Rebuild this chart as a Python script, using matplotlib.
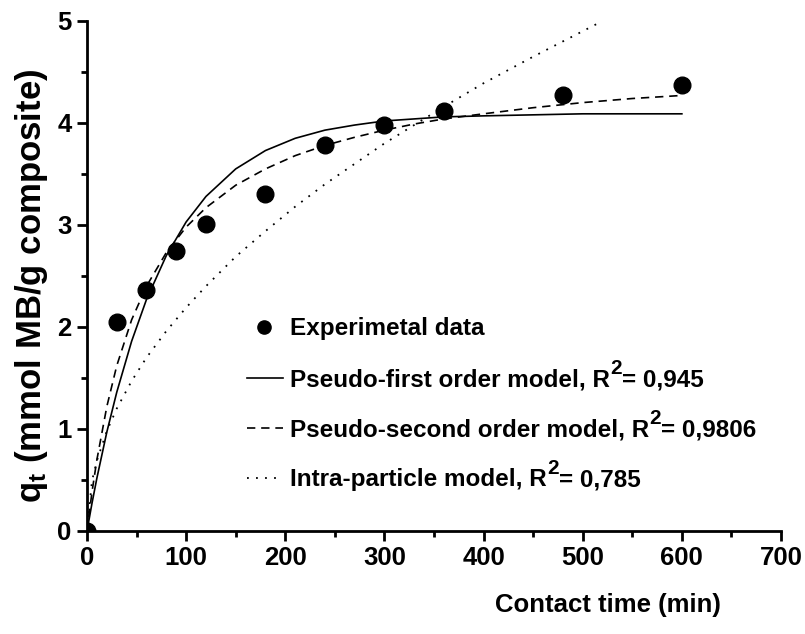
import matplotlib
matplotlib.use('Agg')
import matplotlib.pyplot as plt
from matplotlib.lines import Line2D
from matplotlib.ticker import MultipleLocator

plt.rcParams['font.family'] = ['Liberation Sans', 'DejaVu Sans']
plt.rcParams['font.weight'] = 'bold'
plt.rcParams['mathtext.fontset'] = 'custom'
plt.rcParams['mathtext.rm'] = 'Liberation Sans:bold'
plt.rcParams['mathtext.bf'] = 'Liberation Sans:bold'
plt.rcParams['mathtext.it'] = 'Liberation Sans:bold'

# Experimental data
time_exp = [0, 30, 60, 90, 120, 180, 240, 300, 360, 480, 600]
q_exp = [0, 2.05, 2.36, 2.75, 3.01, 3.30, 3.78, 3.98, 4.12, 4.27, 4.37]

# Model curves
time_pfo = [0, 5, 10, 20, 30, 45, 60, 80, 100, 120, 150, 180, 210, 240, 270, 300, 330, 360, 400, 450, 500, 550, 600]
q_pfo = [0, 0.27, 0.52, 0.97, 1.36, 1.86, 2.27, 2.70, 3.03, 3.28, 3.55, 3.73, 3.85, 3.93, 3.98, 4.02, 4.04, 4.06, 4.07, 4.08, 4.09, 4.09, 4.09]

time_pso = [0, 5, 10, 20, 30, 45, 60, 80, 100, 120, 150, 180, 210, 240, 270, 300, 330, 360, 400, 450, 500, 550, 600]
q_pso = [0, 0.38, 0.70, 1.22, 1.62, 2.07, 2.40, 2.73, 2.98, 3.17, 3.39, 3.55, 3.68, 3.78, 3.86, 3.93, 3.99, 4.04, 4.09, 4.15, 4.20, 4.24, 4.27]

time_ipd = [0, 5, 10, 20, 30, 45, 60, 80, 100, 120, 150, 180, 210, 240, 270, 300, 330, 360, 400, 450, 500, 520]
q_ipd = [0, 0.49, 0.69, 0.98, 1.20, 1.47, 1.70, 1.96, 2.19, 2.40, 2.69, 2.94, 3.18, 3.40, 3.60, 3.80, 3.98, 4.16, 4.39, 4.65, 4.90, 5.00]

legend_names = ['Experimetal data',
                'Pseudo-first order model, R',
                'Pseudo-second order model, R',
                'Intra-particle model, R']
legend_r2 = [None, '0,945', '0,9806', '0,785']

W, H = 805, 634
fig = plt.figure(figsize=(W / 100, H / 100), dpi=100)
ax = fig.add_axes([87 / W, 1 - 531 / H, (781 - 87) / W, (531 - 21) / H])

solid_style = dict(color='k', lw=1.2, ls='-')
dash_style = dict(color='k', lw=1.2, ls=(0, (5, 3.5)))
dot_style = dict(color='k', lw=1.3, ls=(0, (1, 4)))

ax.plot(time_pfo, q_pfo, **solid_style)
ax.plot(time_pso, q_pso, **dash_style)
ax.plot(time_ipd, q_ipd, **dot_style)
ax.plot(time_exp, q_exp, 'o', color='k', ms=12, ls='none', zorder=5)

ax.set_xlim(0, 700)
ax.set_ylim(0, 5)
for s in ['top', 'right']:
    ax.spines[s].set_visible(False)
for s in ['left', 'bottom']:
    ax.spines[s].set_linewidth(2)

ax.xaxis.set_major_locator(MultipleLocator(100))
ax.xaxis.set_minor_locator(MultipleLocator(50))
ax.yaxis.set_major_locator(MultipleLocator(1))
ax.yaxis.set_minor_locator(MultipleLocator(0.5))
ax.tick_params(which='major', direction='out', length=7, width=2, labelsize=18.5, pad=4)
ax.tick_params(which='minor', direction='out', length=4, width=2)
for lab in ax.get_xticklabels() + ax.get_yticklabels():
    lab.set_fontweight('bold')

ax.set_ylabel(r'q$_{\mathbf{t}}$ (mmol MB/g composite)', fontsize=25, fontweight='bold')
ax.yaxis.set_label_coords(-0.053, 0.48)
fig.text(608 / W, 1 - 605 / H, 'Contact time (min)', fontsize=18.5, fontweight='bold',
         ha='center', va='center')

# manual legend
renderer = fig.canvas.get_renderer()
rows = [327, 378, 428, 478]
styles = [None, solid_style, dash_style, dot_style]
fs = 17.5
for y, name, r2, st in zip(rows, legend_names, legend_r2, styles):
    yf = 1 - y / H
    if st is None:
        fig.add_artist(Line2D([264 / W], [yf], marker='o', color='k', ms=9.5, ls='none',
                              transform=fig.transFigure))
    else:
        fig.add_artist(Line2D([247 / W, 283 / W], [yf, yf], transform=fig.transFigure, **st))
    base = y + 8
    t1 = fig.text(290 / W, 1 - base / H, name, fontsize=fs, fontweight='bold',
                  ha='left', va='baseline')
    if r2 is not None:
        x1 = t1.get_window_extent(renderer).x1
        t2 = fig.text(x1 / W + 0.5 / W, 1 - (base - 12) / H, '2', fontsize=15, fontweight='bold',
                      ha='left', va='baseline')
        x2 = t2.get_window_extent(renderer).x1
        fig.text(x2 / W, 1 - base / H, '= ' + r2, fontsize=fs, fontweight='bold',
                 ha='left', va='baseline')

fig.savefig('out.png', dpi=100)
